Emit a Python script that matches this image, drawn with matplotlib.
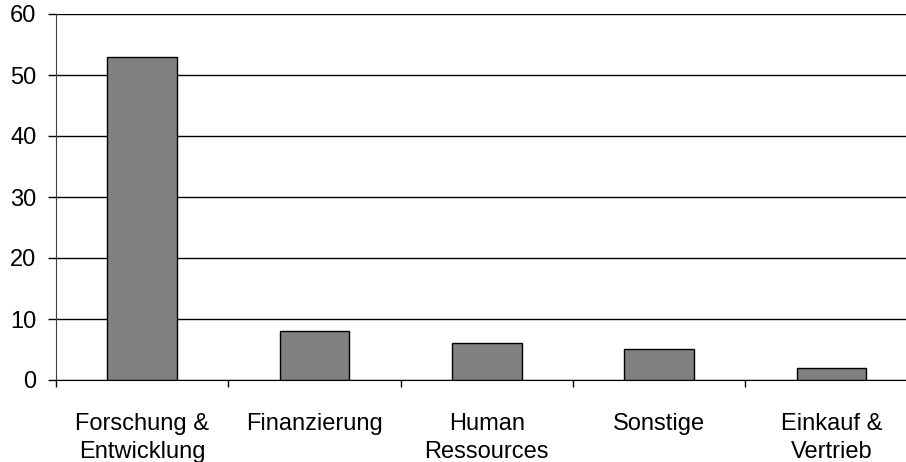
import matplotlib
matplotlib.use("Agg")
import matplotlib.pyplot as plt
import numpy as np

categories = ["Forschung &\nEntwicklung", "Finanzierung", "Human\nRessources", "Sonstige", "Einkauf &\nVertrieb"]
values = [53, 8, 6, 5.1, 2]
y_ticks = [0, 10, 20, 30, 40, 50, 60]

plt.rcParams["font.family"] = ["Liberation Sans", "DejaVu Sans"]
plt.rcParams["font.size"] = 17

fig = plt.figure(figsize=(9.06, 4.62), dpi=100)
ax = fig.add_axes([56 / 906, 82 / 462, 861.7 / 906, 366 / 462])

centers = np.arange(len(categories)) + 0.5
ax.bar(centers, values, width=0.405, color="#808080", edgecolor="black", linewidth=1.0, zorder=3)

ax.set_xlim(0, len(categories))
ax.set_ylim(0, 60)
ax.set_yticks(y_ticks)
ax.yaxis.grid(True, color="black", linewidth=1.0, zorder=0)
ax.set_axisbelow(True)

# category boundaries carry the tick marks, centers carry the labels
ax.set_xticks(np.arange(len(categories) + 1))
ax.set_xticklabels([])
ax.set_xticks(centers, minor=True)
ax.set_xticklabels(categories, minor=True, ha="center", linespacing=1.32)
ax.tick_params(axis="x", which="major", direction="out", length=5, width=1, color="black")
ax.tick_params(axis="x", which="minor", length=0, pad=24)
ax.tick_params(axis="y", direction="out", length=6, width=1, color="black", pad=8)

for s in ["top", "right"]:
    ax.spines[s].set_visible(False)
ax.spines["left"].set_color("#404040")
ax.spines["bottom"].set_color("black")

fig.savefig("out.png", dpi=100)
